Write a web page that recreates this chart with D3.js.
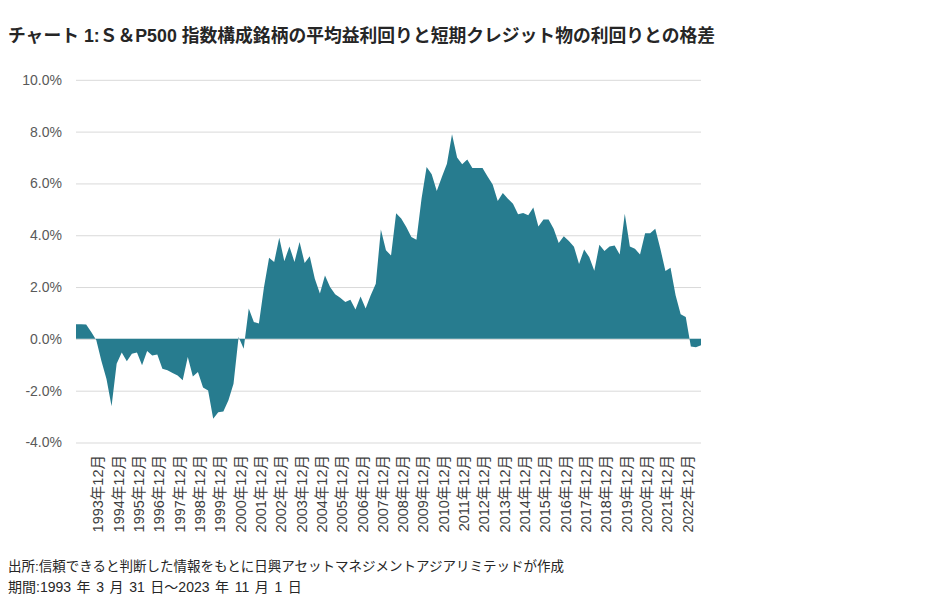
<!DOCTYPE html>
<html>
<head>
<meta charset="utf-8">
<script src="https://cdn.jsdelivr.net/npm/d3@7"></script>
<style>
  html, body { margin: 0; padding: 0; background: #ffffff; }
  svg { display: block; }
</style>
</head>
<body>
<svg id="chart" width="934" height="609"></svg>
<script>
// ---- Data ----
const titleText = "チャート 1:Ｓ＆P500 指数構成銘柄の平均益利回りと短期クレジット物の利回りとの格差";
const sourceText = "出所:信頼できると判断した情報をもとに日興アセットマネジメントアジアリミテッドが作成";
const periodText = "期間:1993 年 3 月 31 日～2023 年 11 月 1 日";

// Quarter-end categories: 1993-03 ... 2023-09, then 2023-11
const categories = [];
for (let yr = 1993; yr <= 2023; yr++) {
  for (const m of ["03", "06", "09", "12"]) {
    if (yr === 2023 && m === "12") continue;
    categories.push(yr + "-" + m);
  }
}
categories.push("2023-11");

// Spread (%)
const spread = [
  0.56, 0.56, 0.55, 0.27, -0.05, -0.85, -1.55, -2.60, -0.96, -0.53,
  -0.86, -0.57, -0.53, -1.02, -0.47, -0.64, -0.60, -1.15, -1.21, -1.32,
  -1.41, -1.60, -0.70, -1.45, -1.28, -1.88, -1.99, -3.08, -2.83, -2.80,
  -2.37, -1.73, 0.07, -0.38, 1.17, 0.65, 0.59, 2.00, 3.13, 2.97,
  3.90, 3.00, 3.57, 2.97, 3.74, 2.93, 3.19, 2.32, 1.75, 2.45,
  2.00, 1.72, 1.59, 1.42, 1.51, 1.13, 1.64, 1.17, 1.68, 2.13,
  4.22, 3.42, 3.22, 4.85, 4.65, 4.32, 3.93, 3.83, 5.41, 6.63,
  6.35, 5.71, 6.25, 6.76, 7.90, 7.00, 6.74, 6.92, 6.60, 6.60,
  6.60, 6.27, 5.96, 5.32, 5.63, 5.41, 5.22, 4.81, 4.86, 4.77,
  5.07, 4.34, 4.61, 4.61, 4.25, 3.70, 3.96, 3.78, 3.56, 2.89,
  3.45, 3.16, 2.63, 3.63, 3.39, 3.57, 3.60, 3.26, 4.83, 3.57,
  3.48, 3.26, 4.08, 4.08, 4.25, 3.48, 2.62, 2.75, 1.68, 0.95,
  0.84, -0.29, -0.32, -0.25
];

const yTicks = [-4, -2, 0, 2, 4, 6, 8, 10];
const xTickCats = ["1993-12","1994-12","1995-12","1996-12","1997-12","1998-12","1999-12","2000-12",
  "2001-12","2002-12","2003-12","2004-12","2005-12","2006-12","2007-12","2008-12","2009-12","2010-12",
  "2011-12","2012-12","2013-12","2014-12","2015-12","2016-12","2017-12","2018-12","2019-12","2020-12",
  "2021-12","2022-12"];
const xTickLabels = ["1993年12月","1994年12月","1995年12月","1996年12月","1997年12月","1998年12月",
  "1999年12月","2000年12月","2001年12月","2002年12月","2003年12月","2004年12月","2005年12月",
  "2006年12月","2007年12月","2008年12月","2009年12月","2010年12月","2011年12月","2012年12月",
  "2013年12月","2014年12月","2015年12月","2016年12月","2017年12月","2018年12月","2019年12月",
  "2020年12月","2021年12月","2022年12月"];

// ---- Drawing ----
const svg = d3.select("#chart");
const FONT = "'Liberation Sans', Arial, 'Noto Sans CJK JP', sans-serif";
const plot = { left: 76, right: 701, top: 79.8, bottom: 442.5 };

const x = d3.scaleLinear().domain([0, spread.length - 1]).range([plot.left, plot.right]);
const y = d3.scaleLinear().domain([-4, 10]).range([plot.bottom, plot.top]);

// Title
svg.append("text")
  .attr("x", 8).attr("y", 42)
  .attr("font-family", FONT)
  .attr("font-size", 17.8).attr("font-weight", "bold")
  .attr("fill", "#262626")
  .text(titleText);

// Gridlines + y labels
const yAxis = d3.axisLeft(y)
  .tickValues(yTicks)
  .tickSize(-(plot.right - plot.left))
  .tickPadding(14)
  .tickFormat(d => (d < 0 ? "-" : "") + Math.abs(d).toFixed(1) + "%");

const gy = svg.append("g")
  .attr("transform", `translate(${plot.left},0)`)
  .call(yAxis);
gy.select(".domain").remove();
gy.selectAll(".tick line").attr("stroke", "#d9d9d9").attr("stroke-width", 1);
gy.selectAll(".tick text")
  .attr("font-family", FONT).attr("font-size", 14)
  .attr("fill", "#595959");

// Area
const area = d3.area()
  .x((d, i) => x(i))
  .y0(y(0))
  .y1(d => y(d));

svg.append("path")
  .datum(spread)
  .attr("d", area)
  .attr("fill", "#277c8f");

// X labels (rotated)
const labelOffset = 6.8;
const gx = svg.append("g");
xTickCats.forEach((c, k) => {
  const idx = categories.indexOf(c);
  const px = x(idx) + labelOffset;
  gx.append("text")
    .attr("transform", `translate(${px},455) rotate(-90)`)
    .attr("text-anchor", "end")
    .attr("dy", "0.36em")
    .attr("font-family", FONT)
    .attr("font-size", 14.5)
    .attr("fill", "#404040")
    .text(xTickLabels[k]);
});

// Footer
svg.append("text")
  .attr("x", 8).attr("y", 571)
  .attr("font-family", FONT).attr("font-size", 13.5)
  .attr("fill", "#262626")
  .text(sourceText);
svg.append("text")
  .attr("x", 8).attr("y", 592)
  .attr("font-family", FONT).attr("font-size", 14)
  .attr("word-spacing", 1.7)
  .attr("fill", "#262626")
  .text(periodText);
</script>
</body>
</html>
